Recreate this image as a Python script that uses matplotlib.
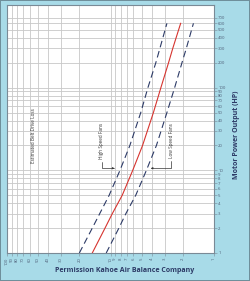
import matplotlib
matplotlib.use("Agg")
import matplotlib.pyplot as plt

plt.rcParams['font.family'] = ['Open Sans', 'DejaVu Sans']

# Data (x = estimated belt drive loss %, y = motor power output HP)
hp = [1, 2, 3, 5, 10, 20, 50, 100, 200, 300, 600]
loss_avg = [15.0, 11.3, 9.6, 7.7, 6.1, 4.9, 3.85, 3.26, 2.75, 2.5, 2.1]
loss_high_speed = [20.0, 15.0, 12.7, 10.3, 8.1, 6.5, 5.1, 4.35, 3.65, 3.33, 2.85]
loss_low_speed = [11.0, 8.3, 7.1, 5.7, 4.5, 3.6, 2.85, 2.4, 2.04, 1.85, 1.58]

x_ticks = [100, 90, 80, 70, 60, 50, 40, 30, 20, 10, 9, 8, 7, 6, 5, 4, 3, 2, 1]
y_ticks = [1, 2, 3, 4, 5, 6, 7, 8, 9, 10, 20, 30, 40, 50, 60, 70, 80, 90,
           100, 200, 300, 400, 500, 600, 700]

bg = '#a8dbe8'
navy = '#2c3a66'
red = '#d6342f'
tickc = '#4f5f78'

fig = plt.figure(figsize=(2.5, 2.81), dpi=100, facecolor=bg,
                 edgecolor='#6f8f9b', linewidth=1.2)
ax = fig.add_axes([7 / 250, 1 - 253 / 281, 207 / 250, 248 / 281])
ax.set_facecolor('white')
ax.set_xscale('log')
ax.set_yscale('log')
ax.set_xlim(100, 1)
ax.set_ylim(1, 1000)

ax.set_xticks(x_ticks)
ax.set_xticklabels([str(v) for v in x_ticks], rotation=90, fontsize=3.1, color=tickc)
ax.set_yticks(y_ticks)
ax.set_yticklabels([str(v) for v in y_ticks], fontsize=3.1, color=tickc)
ax.set_xticks([], minor=True)
ax.set_yticks([], minor=True)
ax.yaxis.tick_right()
ax.tick_params(axis='both', length=2, width=0.4, color='#7a8a96', pad=1.0)
ax.grid(True, which='major', color='#c8c8c8', linewidth=0.6)
ax.set_axisbelow(True)
for s in ax.spines.values():
    s.set_color('#7a8a96')
    s.set_linewidth(0.8)

ax.plot(loss_high_speed, hp, color=navy, lw=0.8, dashes=(6, 3.5))
ax.plot(loss_avg, hp, color=red, lw=0.8)
ax.plot(loss_low_speed, hp, color=navy, lw=0.8, dashes=(6, 3.5))

ax.text(55, 26, 'Estimated Belt Drive Loss', rotation=90, fontsize=3.3,
        color='#333333', ha='center', va='center')

arrow = dict(arrowstyle='-|>,head_length=0.35,head_width=0.15', lw=0.5,
             color='#333333', shrinkA=0, shrinkB=0,
             connectionstyle='angle,angleA=90,angleB=0,rad=0')
ax.annotate('High Speed Fans', xy=(9.1, 10.6), xytext=(12.1, 22.6),
            rotation=90, fontsize=3.3, color='#333333', ha='center', va='center',
            arrowprops=arrow)
ax.annotate('Low Speed Fans', xy=(4.1, 10.6), xytext=(2.6, 22.6),
            rotation=90, fontsize=3.3, color='#333333', ha='center', va='center',
            arrowprops=arrow)

fig.text(237 / 250, 1 - 135 / 281, 'Motor Power Output (HP)', rotation=90,
         fontsize=5, fontweight='bold', color=navy, ha='center', va='center')
fig.text(125 / 250, 1 - 271 / 281, 'Permission Kahoe Air Balance Company',
         fontsize=5, fontweight='bold', color=navy, ha='center', va='center')

fig.savefig('out.png', dpi=100, facecolor=bg, edgecolor='#6f8f9b')
